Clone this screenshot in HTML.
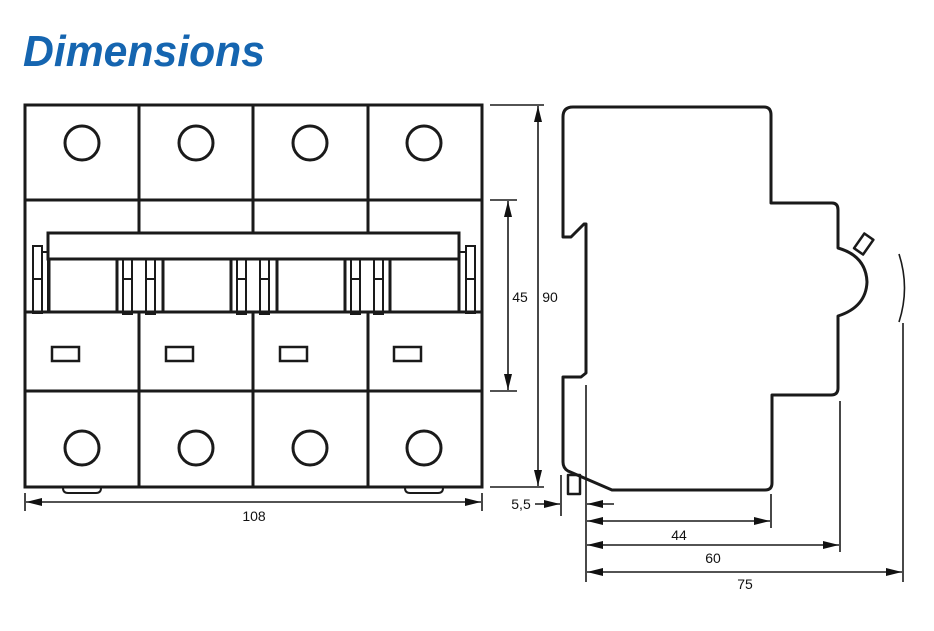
<!DOCTYPE html>
<html><head><meta charset="utf-8"><style>
html,body{margin:0;padding:0;background:#fff;}
svg{display:block;}
text{font-family:"Liberation Sans",sans-serif;}
</style></head><body>
<svg width="934" height="631" viewBox="0 0 934 631" xmlns="http://www.w3.org/2000/svg">
<defs>
<marker id="a" viewBox="0 0 16 8" refX="16" refY="4" markerWidth="16" markerHeight="8" orient="auto-start-reverse" markerUnits="userSpaceOnUse"><path d="M0,0 L16,4 L0,8 z" fill="#111"/></marker>
</defs>
<text x="23" y="66" font-size="44" font-weight="bold" font-style="italic" fill="#1565b0" textLength="242" lengthAdjust="spacingAndGlyphs">Dimensions</text>

<g fill="none" stroke="#1a1a1a" stroke-width="3">
<!-- front view -->
<rect x="25" y="105" width="457" height="382"/>
<line x1="25" y1="200" x2="482" y2="200"/>
<line x1="139" y1="105" x2="139" y2="233"/>
<line x1="253" y1="105" x2="253" y2="233"/>
<line x1="368" y1="105" x2="368" y2="233"/>
<line x1="139" y1="312" x2="139" y2="487"/>
<line x1="253" y1="312" x2="253" y2="487"/>
<line x1="368" y1="312" x2="368" y2="487"/>
<line x1="25" y1="391" x2="482" y2="391"/>
<rect x="48" y="233" width="411" height="26"/>
<line x1="25" y1="312" x2="482" y2="312"/>
<rect x="49" y="259" width="68" height="53"/>
<rect x="163" y="259" width="68" height="53"/>
<rect x="277" y="259" width="68" height="53"/>
<rect x="390" y="259" width="69" height="53"/>
<circle cx="82" cy="143" r="17"/><circle cx="196" cy="143" r="17"/><circle cx="310" cy="143" r="17"/><circle cx="424" cy="143" r="17"/>
<circle cx="82" cy="448" r="17"/><circle cx="196" cy="448" r="17"/><circle cx="310" cy="448" r="17"/><circle cx="424" cy="448" r="17"/>
<g stroke-width="2.5">
<rect x="52" y="347" width="27" height="14"/><rect x="166" y="347" width="27" height="14"/><rect x="280" y="347" width="27" height="14"/><rect x="394" y="347" width="27" height="14"/>
</g>
<g stroke-width="2">
<rect x="33" y="246" width="9" height="67"/><rect x="42" y="252" width="6" height="60"/><line x1="33" y1="279" x2="42" y2="279"/>
<rect x="466" y="246" width="9" height="67"/><rect x="459" y="252" width="7" height="60"/><line x1="466" y1="279" x2="475" y2="279"/>
<rect x="117" y="259" width="6" height="53"/><rect x="123" y="259" width="9" height="55"/><rect x="146" y="259" width="9" height="55"/><rect x="155" y="259" width="8" height="53"/>
<line x1="123" y1="279" x2="132" y2="279"/><line x1="146" y1="279" x2="155" y2="279"/>
<rect x="231" y="259" width="6" height="53"/><rect x="237" y="259" width="9" height="55"/><rect x="260" y="259" width="9" height="55"/><rect x="269" y="259" width="8" height="53"/>
<line x1="237" y1="279" x2="246" y2="279"/><line x1="260" y1="279" x2="269" y2="279"/>
<rect x="345" y="259" width="6" height="53"/><rect x="351" y="259" width="9" height="55"/><rect x="374" y="259" width="9" height="55"/><rect x="383" y="259" width="7" height="53"/>
<line x1="351" y1="279" x2="360" y2="279"/><line x1="374" y1="279" x2="383" y2="279"/>
<path d="M63,488 q0,5 5,5 h28 q5,0 5,-5"/><path d="M405,488 q0,5 5,5 h28 q5,0 5,-5"/>
</g>
</g>

<!-- dimension lines -->
<g stroke="#1a1a1a" stroke-width="1.6" fill="none">
<line x1="25" y1="493" x2="25" y2="511"/><line x1="482" y1="493" x2="482" y2="511"/>
<line x1="26" y1="502" x2="481" y2="502" marker-start="url(#a)" marker-end="url(#a)"/>
<line x1="490" y1="200" x2="517" y2="200"/><line x1="490" y1="391" x2="517" y2="391"/>
<line x1="508" y1="201" x2="508" y2="390" marker-start="url(#a)" marker-end="url(#a)"/>
<line x1="490" y1="105" x2="544" y2="105"/><line x1="490" y1="487" x2="544" y2="487"/>
<line x1="538" y1="106" x2="538" y2="486" marker-start="url(#a)" marker-end="url(#a)"/>
<!-- side ext lines -->
<line x1="586" y1="385" x2="586" y2="582"/>
<line x1="561" y1="475" x2="561" y2="516"/>
<line x1="535" y1="504" x2="560" y2="504" marker-end="url(#a)"/>
<line x1="614" y1="504" x2="587" y2="504" marker-end="url(#a)"/>
<line x1="771" y1="494" x2="771" y2="528"/>
<line x1="587" y1="521" x2="770" y2="521" marker-start="url(#a)" marker-end="url(#a)"/>
<line x1="840" y1="401" x2="840" y2="552"/>
<line x1="587" y1="545" x2="839" y2="545" marker-start="url(#a)" marker-end="url(#a)"/>
<line x1="903" y1="323" x2="903" y2="582"/>
<line x1="587" y1="572" x2="902" y2="572" marker-start="url(#a)" marker-end="url(#a)"/>
<path d="M899,254 Q910,288 899,322"/>
</g>

<!-- side profile -->
<g fill="none" stroke="#1a1a1a" stroke-width="3" stroke-linejoin="round">
<path d="M563,237 V117 Q563,107 573,107 H764 Q771,107 771,115 V203 H832 Q838,203 838,210 V248 Q866,256 867,282 Q866,307 838,316 V388 Q838,395 831,395 H772 V483 Q772,490 765,490 H612 L568,471 Q563,468 563,462 V377 H581 L586,373 V224 H584 L571,237 Z"/>
<rect x="568" y="475" width="12" height="19" stroke-width="2.5"/>
<g transform="translate(861,247) rotate(35)"><rect x="-5" y="-13" width="11" height="18" stroke-width="2.5"/></g>
</g>

<g font-size="14" fill="#111" text-anchor="middle">
<text x="254" y="521">108</text>
<text x="520" y="302">45</text>
<text x="550" y="302">90</text>
<text x="521" y="509">5,5</text>
<text x="679" y="540">44</text>
<text x="713" y="563">60</text>
<text x="745" y="589">75</text>
</g>
</svg>
</body></html>
